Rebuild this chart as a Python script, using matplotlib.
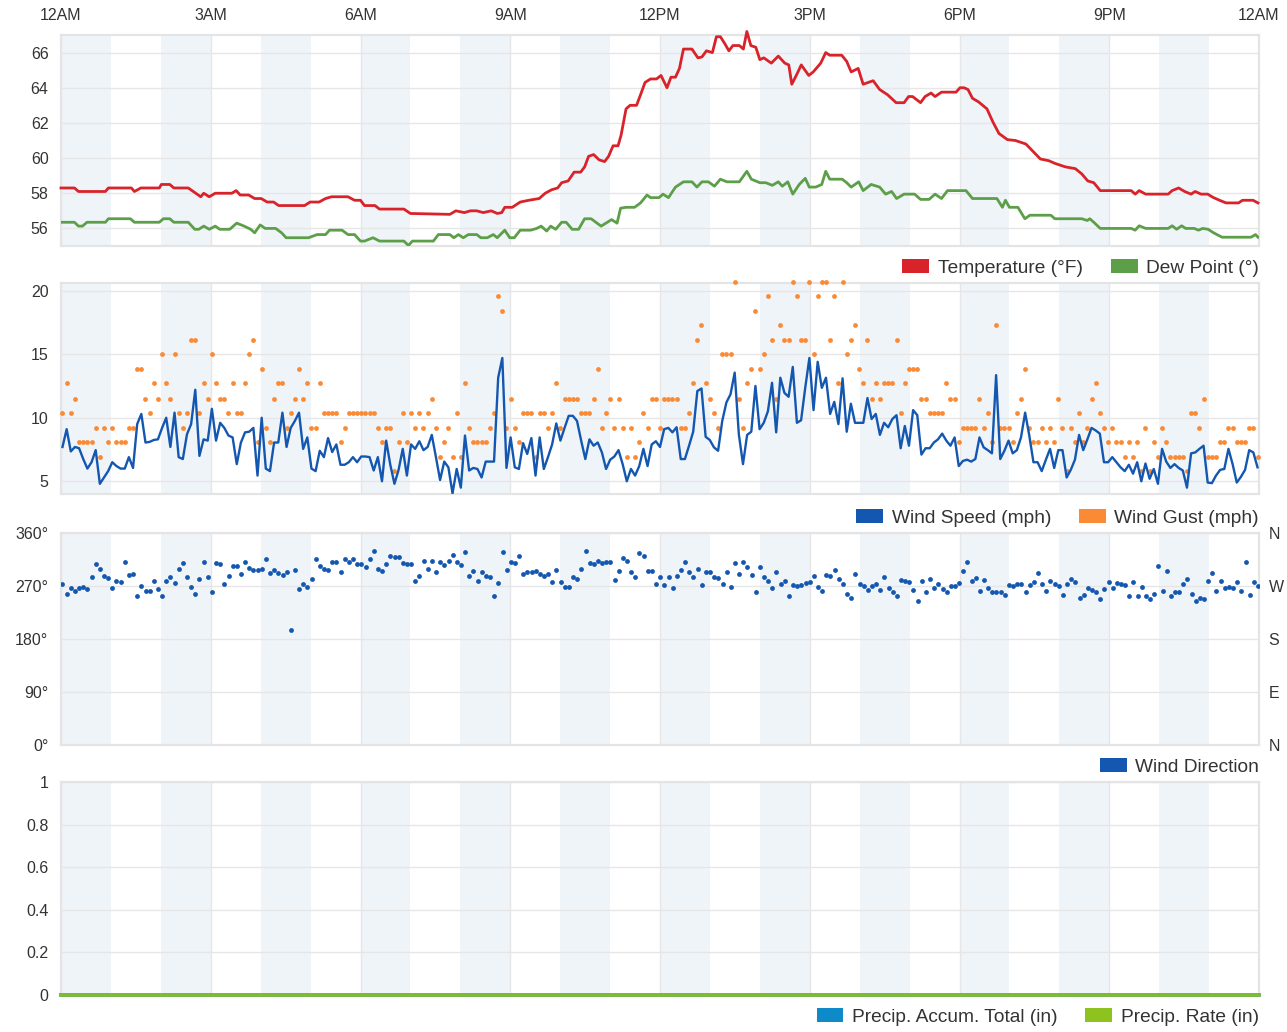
import numpy as np
import matplotlib

matplotlib.use("Agg")

import matplotlib.pyplot as plt
from matplotlib.patches import Patch

plt.rcParams["font.family"] = ["Liberation Sans", "DejaVu Sans"]

# ---- Temperature / dew point (hour of day, deg F) ----
temp_hours = [
    0.00, 0.27, 0.35, 0.89, 0.95, 1.41, 1.47, 1.60, 1.97, 2.01, 2.18, 2.26, 2.55, 2.80, 2.86, 2.97,
    3.09, 3.42, 3.51, 3.59, 3.76, 3.88, 4.01, 4.13, 4.26, 4.36, 4.88, 4.99, 5.17, 5.30, 5.42, 5.75,
    5.88, 6.00, 6.08, 6.29, 6.38, 6.87, 7.00, 7.79, 7.91, 8.08, 8.20, 8.33, 8.46, 8.62, 8.74, 8.83,
    8.89, 9.04, 9.20, 9.37, 9.58, 9.70, 9.83, 9.95, 10.03, 10.16, 10.28, 10.41, 10.49, 10.57, 10.67,
    10.78, 10.89, 10.97, 11.06, 11.16, 11.22, 11.32, 11.40, 11.53, 11.61, 11.70, 11.81, 11.93, 12.02,
    12.14, 12.22, 12.31, 12.39, 12.47, 12.64, 12.76, 12.84, 12.93, 13.05, 13.13, 13.21, 13.30, 13.38,
    13.46, 13.59, 13.67, 13.74, 13.82, 13.92, 14.00, 14.08, 14.23, 14.37, 14.50, 14.58, 14.64, 14.73,
    14.83, 14.98, 15.07, 15.22, 15.32, 15.40, 15.64, 15.74, 15.83, 15.97, 16.07, 16.27, 16.40, 16.56,
    16.73, 16.89, 16.98, 17.06, 17.22, 17.31, 17.43, 17.51, 17.64, 17.93, 18.01, 18.09, 18.17, 18.26,
    18.38, 18.55, 18.67, 18.79, 18.96, 19.12, 19.33, 19.50, 19.62, 19.79, 19.91, 20.12, 20.32, 20.45,
    20.57, 20.69, 20.82, 21.44, 21.52, 21.60, 21.73, 22.18, 22.26, 22.39, 22.51, 22.64, 22.72, 22.84,
    22.97, 23.09, 23.21, 23.34, 23.59, 23.67, 23.88, 23.98,
]
temp_f = [
    58.3, 58.3, 58.1, 58.1, 58.3, 58.3, 58.1, 58.3, 58.3, 58.5, 58.5, 58.3, 58.3, 57.8, 58.0, 57.8,
    58.0, 58.0, 58.15, 57.9, 57.9, 57.7, 57.7, 57.5, 57.5, 57.3, 57.3, 57.5, 57.5, 57.7, 57.8, 57.8,
    57.6, 57.6, 57.3, 57.3, 57.1, 57.1, 56.85, 56.8, 57.0, 56.9, 57.0, 57.0, 56.9, 57.0, 56.85, 56.9,
    57.2, 57.2, 57.5, 57.6, 57.7, 58.0, 58.2, 58.3, 58.6, 58.7, 59.2, 59.2, 59.5, 60.1, 60.2,
    59.9, 59.8, 60.1, 60.7, 60.7, 61.3, 62.8, 63.0, 63.0, 63.6, 64.3, 64.5, 64.5, 64.7,
    64.0, 64.6, 64.6, 65.1, 66.2, 66.2, 65.7, 65.75, 66.1, 66.0, 66.9, 66.9, 66.5, 66.1,
    66.4, 66.4, 66.2, 67.2, 66.4, 66.3, 65.6, 65.7, 65.4, 65.8, 65.4, 65.3, 64.2, 64.7,
    65.3, 64.7, 64.9, 65.4, 66.0, 65.85, 65.85, 65.5, 64.9, 65.1, 64.2, 64.4, 63.9, 63.6,
    63.15, 63.15, 63.5, 63.5, 63.15, 63.5, 63.7, 63.5, 63.75, 63.75, 64.0, 64.0, 63.9, 63.4,
    63.2, 62.8, 62.05, 61.4, 61.05, 61.0, 60.8, 60.3, 59.95, 59.85, 59.7, 59.5, 59.4, 59.1,
    58.7, 58.6, 58.15, 58.15, 57.95, 58.15, 57.95, 57.95, 58.15, 58.3, 58.1, 57.95, 58.1, 57.95,
    57.95, 57.75, 57.6, 57.45, 57.45, 57.6, 57.6, 57.45,
]
dew_hours = [
    0.00, 0.27, 0.35, 0.43, 0.52, 0.89, 0.95, 1.39, 1.47, 1.97, 2.05, 2.18, 2.26, 2.55, 2.68, 2.76,
    2.86, 2.97, 3.09, 3.18, 3.38, 3.52, 3.67, 3.80, 3.88, 3.99, 4.09, 4.30, 4.42, 4.51, 4.96, 5.13,
    5.30, 5.38, 5.63, 5.75, 5.88, 6.00, 6.08, 6.25, 6.38, 6.87, 6.96, 7.04, 7.46, 7.56, 7.79, 7.87,
    7.96, 8.06, 8.16, 8.33, 8.41, 8.54, 8.66, 8.74, 8.89, 8.99, 9.08, 9.20, 9.41, 9.53, 9.62, 9.73,
    9.81, 9.91, 10.03, 10.12, 10.24, 10.37, 10.49, 10.62, 10.82, 11.03, 11.14, 11.21, 11.32, 11.49,
    11.61, 11.74, 11.81, 11.98, 12.06, 12.17, 12.31, 12.47, 12.64, 12.74, 12.84, 12.97, 13.09, 13.21,
    13.34, 13.59, 13.74, 13.83, 14.00, 14.12, 14.25, 14.37, 14.45, 14.56, 14.66, 14.79, 14.91, 14.99,
    15.12, 15.24, 15.32, 15.40, 15.65, 15.74, 15.83, 15.98, 16.07, 16.23, 16.40, 16.52, 16.64, 16.74,
    16.89, 17.10, 17.22, 17.39, 17.51, 17.64, 17.76, 18.13, 18.26, 18.75, 18.86, 18.92, 19.00, 19.17,
    19.31, 19.41, 19.83, 19.91, 20.45, 20.56, 20.61, 20.69, 20.82, 21.44, 21.52, 21.60, 21.73, 22.18,
    22.26, 22.35, 22.45, 22.53, 22.70, 22.79, 22.87, 22.98, 23.09, 23.26, 23.84, 23.93, 23.98,
]
dew_f = [
    56.35, 56.35, 56.13, 56.13, 56.35, 56.35, 56.55, 56.55, 56.35, 56.35, 56.55, 56.55, 56.35, 56.35, 55.95, 55.95,
    56.13, 55.95, 56.13, 55.95, 55.95, 56.3, 56.13, 55.95, 55.75, 56.2, 56.0, 56.0, 55.75, 55.47, 55.47, 55.65,
    55.65, 55.9, 55.9, 55.65, 55.65, 55.28, 55.28, 55.47, 55.28, 55.28, 55.03, 55.28, 55.28, 55.65, 55.65, 55.47,
    55.65, 55.47, 55.65, 55.65, 55.47, 55.47, 55.65, 55.47, 55.9, 55.47, 55.47, 55.9, 55.9, 56.0, 56.13, 55.85,
    56.13, 55.95, 56.35, 56.35, 55.95, 55.95, 56.55, 56.55, 56.13, 56.5, 56.3, 57.15, 57.2, 57.2,
    57.45, 57.9, 57.75, 57.75, 57.95, 57.75, 58.35, 58.65, 58.65, 58.35, 58.65, 58.65, 58.4, 58.8,
    58.65, 58.65, 59.25, 58.8, 58.6, 58.6, 58.45, 58.65, 58.4, 58.65, 57.95, 58.5, 58.85, 58.35,
    58.35, 58.5, 59.25, 58.8, 58.8, 58.6, 58.35, 58.65, 58.15, 58.5, 58.35, 57.95, 58.1, 57.7,
    57.95, 57.95, 57.65, 57.65, 57.95, 57.7, 58.15, 58.15, 57.7, 57.7, 57.2, 57.6, 57.2, 57.2,
    56.55, 56.75, 56.75, 56.55, 56.55, 56.45, 56.55, 56.35, 56.0, 56.0, 55.9, 56.15, 56.0, 56.0,
    56.15, 55.95, 56.15, 56.0, 56.0, 55.9, 56.0, 55.95, 55.75, 55.5, 55.5, 55.65, 55.5,
]

# ---- Wind speed and gust (mph), one reading every ~5 minutes ----
wind_speed = [
    7.7, 9.1, 7.35, 7.7, 7.6, 6.75, 6.0, 6.5, 7.45, 4.8,
    5.3, 5.8, 6.5, 6.2, 6.0, 6.0, 6.9, 6.05, 9.5, 10.3,
    8.05, 8.1, 8.25, 8.3, 9.2, 10.0, 7.7, 10.4, 6.9, 6.75,
    8.7, 9.5, 12.2, 7.0, 8.3, 8.2, 10.7, 8.2, 9.6, 9.2,
    8.6, 8.45, 6.35, 8.05, 8.85, 8.9, 9.2, 5.45, 10.0, 6.0,
    5.8, 8.05, 8.05, 10.4, 7.7, 9.2, 9.75, 10.4, 7.55, 8.45,
    6.0, 5.8, 7.4, 6.9, 8.4, 7.3, 7.9, 6.3, 6.3, 6.5,
    6.9, 6.5, 6.95,
    6.95, 6.9, 5.85, 6.9, 5.0, 8.2, 6.3, 4.8, 5.9, 7.55,
    5.45, 7.9, 7.55, 8.15, 7.45, 7.7, 8.65, 6.9, 5.1, 6.55,
    6.1, 4.05, 5.97, 4.5, 8.6, 5.85, 6.05, 5.97, 5.3, 6.55,
    6.55, 6.55, 13.15, 14.7, 6.05, 8.45, 6.1, 5.97, 8.0, 7.15,
    8.4, 5.45, 8.45, 5.97, 6.9, 7.9, 9.55, 8.2, 9.2, 10.15,
    10.15, 9.75, 8.2, 6.75, 8.3, 7.8, 8.05, 7.27, 5.97, 6.7,
    6.95, 7.45, 6.35, 5.0, 5.97, 5.45, 6.2, 7.55, 6.2, 7.9,
    8.15, 7.7, 9.1,
    9.2, 8.85, 9.25, 6.75, 6.75, 7.8, 8.9, 12.1, 12.3, 8.5,
    8.25, 7.67, 7.4, 9.75, 11.2, 11.85, 13.55, 8.7, 6.35, 8.65,
    8.9, 12.5, 9.1, 9.6, 10.5, 12.75, 8.85, 13.15, 11.95, 11.65,
    14.0, 9.6, 9.8, 12.35, 14.7, 10.6, 14.4, 12.35, 13.15, 10.3,
    11.25, 9.5, 13.1, 8.9, 11.1, 9.6, 9.6, 9.6, 11.55, 9.9,
    10.3, 8.65, 9.6, 9.25, 9.9, 10.2, 7.6, 9.35, 7.8, 10.6,
    10.2, 7.1, 7.6, 7.6, 8.05, 8.3, 8.75, 8.2, 7.8, 8.45,
    6.2, 6.6,
    6.7, 6.55, 6.75, 8.45, 7.67, 7.45, 7.2, 13.35, 6.75, 7.4,
    8.2, 7.2, 7.45, 8.45, 10.4, 8.6, 6.5, 6.5, 5.8, 6.7,
    7.55, 6.05, 7.45, 7.45, 5.3, 5.9, 6.7, 8.65, 7.45, 8.3,
    9.2, 9.0, 8.75, 6.5, 6.5, 6.9, 6.5, 6.1, 5.8, 6.3,
    5.6, 6.5, 5.0, 6.4, 5.2, 5.97, 4.8, 7.55, 6.55, 6.05,
    6.35, 6.05, 5.85, 4.5, 7.2, 7.27, 7.55, 7.8, 4.9, 4.85,
    5.45, 5.9, 5.97, 7.55, 6.35, 4.9, 5.35, 5.9, 7.45, 7.27,
    6.1,
]
wind_gust = [
    10.4, 12.7, 10.4, 11.5, 8.1, 8.1, 8.1, 8.1, 9.2, 6.9,
    9.2, 8.1, 9.2, 8.1, 8.1, 8.1, 9.2, 9.2, 13.8, 13.8,
    11.5, 10.4, 12.7, 11.5, 15.0, 12.7, 11.5, 15.0, 10.4, 9.2,
    10.4, 16.1, 16.1, 10.4, 12.7, 11.5, 15.0, 12.7, 11.5, 11.5,
    10.4, 12.7, 10.4, 10.4, 12.7, 15.0, 16.1, 8.1, 13.8, 9.2,
    8.1, 11.5, 12.7, 12.7, 9.2, 10.4, 11.5, 13.8, 11.5, 12.7,
    9.2, 9.2, 12.7, 10.4, 10.4, 10.4, 10.4, 8.1, 9.2, 10.4,
    10.4, 10.4, 10.4,
    10.4, 10.4, 10.4, 9.2, 8.1, 9.2, 9.2, 5.8, 8.1, 10.4,
    8.1, 10.4, 9.2, 10.4, 9.2, 10.4, 11.5, 9.2, 6.9, 8.1,
    9.2, 6.9, 10.4, 6.9, 12.7, 9.2, 8.1, 8.1, 8.1, 8.1,
    9.2, 10.4, 19.6, 18.4, 9.2, 11.5, 9.2, 8.1, 10.4, 10.4,
    10.4, 6.9, 10.4, 10.4, 9.2, 10.4, 12.7, 9.2, 11.5, 11.5,
    11.5, 11.5, 10.4, 10.4, 10.4, 11.5, 13.8, 9.2, 10.4, 11.5,
    9.2, 11.5, 9.2, 6.9, 9.2, 6.9, 8.1, 10.4, 9.2, 11.5,
    11.5, 9.2, 11.5,
    11.5, 11.5, 11.5, 9.2, 9.2, 10.4, 12.7, 16.1, 17.3, 12.7,
    11.5, 10.4, 9.2, 15.0, 15.0, 15.0, 20.7, 11.5, 9.2, 12.7,
    13.8, 18.4, 13.8, 15.0, 19.6, 16.1, 11.5, 17.3, 16.1, 16.1,
    20.7, 19.6, 16.1, 16.1, 20.7, 15.0, 19.6, 20.7, 20.7, 16.1,
    19.6, 12.7, 20.7, 15.0, 16.1, 17.3, 13.8, 12.7, 16.1, 11.5,
    12.7, 11.5, 12.7, 12.7, 12.7, 16.1, 10.4, 12.7, 13.8, 13.8,
    13.8, 11.5, 11.5, 10.4, 10.4, 10.4, 10.4, 12.7, 11.5, 11.5,
    8.1, 9.2,
    9.2, 9.2, 9.2, 11.5, 9.2, 10.4, 8.1, 17.3, 9.2, 9.2,
    9.2, 8.1, 10.4, 11.5, 13.8, 9.2, 8.1, 8.1, 9.2, 8.1,
    9.2, 8.1, 11.5, 9.2, 5.8, 9.2, 8.1, 10.4, 8.1, 9.2,
    11.5, 12.7, 10.4, 9.2, 8.1, 9.2, 8.1, 8.1, 6.9, 8.1,
    6.9, 8.1, 5.8, 9.2, 5.8, 8.1, 6.9, 9.2, 8.1, 6.9,
    6.9, 6.9, 6.9, 5.8, 10.4, 10.4, 9.2, 11.5, 6.9, 6.9,
    6.9, 8.1, 8.1, 9.2, 9.2, 8.1, 8.1, 8.1, 9.2, 9.2,
    6.9,
]

# ---- Wind direction (degrees), one reading every ~5 minutes ----
wind_dir = [
    273.5, 256.5, 266.7, 262, 266.7, 268, 265, 285, 307.5, 299,
    287.7, 283, 266.7, 279, 277.5, 311.4, 289, 290.5, 252.5, 270.7,
    262, 262, 279, 265, 253.7, 279, 285, 275, 299, 309,
    285, 268, 256.5, 282, 310, 285, 259, 309, 307.5, 273.5,
    287.7, 303.5, 304.6, 290.5, 310, 300, 297.8, 297.8, 299, 316,
    292, 297, 291.6, 288.8, 294.4, 196, 297, 265, 273.5, 268,
    282, 316, 304.6, 299, 297.8, 310, 311.4, 293.3, 316, 310,
    316, 307.5, 307.5, 301.8, 316, 330, 299, 296, 307.5, 321.6,
    320, 318.8, 309, 307.5, 307.5, 279, 287.7, 313, 299, 313,
    294.4, 311.4, 305.8, 313, 322.8, 310, 305.8, 327.3, 287.7, 296,
    279, 293.3, 287.7, 285, 252.5, 275, 327.3, 297.8, 311.4, 309,
    320.5, 290.5, 293.3, 293.3, 296, 290.5, 287.7, 290.5, 277.5, 297.8,
    276.3, 268, 268, 285, 282, 299, 330, 309, 307.5, 313,
    309, 310, 310, 280.3, 296, 317, 313, 293.3, 285, 326,
    321.6, 296,
    296, 273.5, 286, 271.8, 286, 266.7, 287.7, 297, 311.4, 294.4,
    285, 299, 271.8, 293.3, 293.3, 286, 283, 273.5, 293.3, 269,
    308.6, 290.5, 311.4, 301.8, 288.8, 260.5, 301.8, 285, 279, 266,
    294.4, 273.5, 279, 252.5, 271.8, 269.5, 271.8, 275, 277.5, 287.7,
    268, 262, 288.8, 287.7, 297, 282, 273.5, 256.5, 249, 290.5,
    273.5, 269.5, 263.9, 269.5, 273.5, 263.9, 285, 266, 259, 253.7,
    280.9, 279, 277.5, 263.9, 245, 279, 259, 282, 266, 273.5,
    265, 260.5, 269.5, 270.7, 275, 296, 310, 279, 283, 262,
    280.9, 266, 259, 260.5, 260.5, 254.8, 271.8, 270.7, 273.5, 273.5,
    260.5, 271.8, 277.5, 291.6, 273.5, 262, 279, 273.5, 270.7, 254.8,
    273.5, 282, 276.3, 249, 254.8, 266, 263.9, 260.5, 248, 265,
    277.5, 266, 275, 273.5, 271.8, 252.5, 277.5, 252.5, 268, 252.5,
    248, 256.5, 303.5, 262, 296, 252.5, 260.5, 259, 273.5, 282,
    256.5, 245, 249, 248, 279, 292, 262, 279, 266, 268,
    266, 276.3, 262, 310, 254.8, 276.3, 269.5,
]

# ---- Precipitation (in): no rain recorded ----
precip_hours = [0.0, 24.0]
precip_accum = [0.0, 0.0]
precip_rate = [0.0, 0.0]

hour_ticks = [0, 3, 6, 9, 12, 15, 18, 21, 24]
hour_labels = ["12AM", "3AM", "6AM", "9AM", "12PM", "3PM", "6PM", "9PM", "12AM"]

C_TEMP = "#d8232a"
C_DEW = "#5c9f48"
C_SPEED = "#1457b0"
C_GUST = "#fb8a35"
C_DIR = "#1457b0"
C_ACCUM = "#0e8ac8"
C_RATE = "#8dc21f"
C_BAND = "#eff4f9"
C_GRID = "#e6e6e6"
C_TEXT = "#333333"

W, H = 1287, 1032
LEFT, RIGHT = 61, 1259
TICK_SIZE = 11.5


def panel(fig, top, bottom):
    ax = fig.add_axes([LEFT / W, 1 - bottom / H, (RIGHT - LEFT) / W, (bottom - top) / H])
    ax.set_xlim(0, 24)
    for h in range(0, 24, 2):
        ax.axvspan(h, h + 1, color=C_BAND, lw=0, zorder=0)
    for h in hour_ticks:
        ax.axvline(h, color=C_GRID, lw=1.0, zorder=0.5)
    ax.set_xticks([])
    ax.tick_params(axis="y", length=0, pad=9, labelsize=TICK_SIZE, colors=C_TEXT)
    for s in ax.spines.values():
        s.set_color("#e4e4e4")
        s.set_linewidth(1.6)
    return ax


def yaxis(ax, ylim, ticks, labels):
    ax.set_ylim(*ylim)
    ax.set_yticks(ticks)
    ax.set_yticklabels(labels)
    for t in ticks:
        ax.axhline(t, color=C_GRID, lw=1.0, zorder=0.5)


def legend(ax, items, offset_px):
    handles = [Patch(facecolor=c, edgecolor="none", label=l) for l, c in items]
    h_ax = ax.get_position().height * H
    ax.legend(
        handles=handles,
        loc="center right",
        bbox_to_anchor=(1.0, -offset_px / h_ax),
        ncol=len(items),
        frameon=False,
        fontsize=13.8,
        handlelength=1.4,
        handleheight=0.7,
        handletextpad=0.45,
        columnspacing=1.45,
        borderaxespad=0,
        borderpad=0,
        labelcolor=C_TEXT,
    )


def main():
    fig = plt.figure(figsize=(W / 100, H / 100), dpi=100)
    fig.patch.set_facecolor("white")

    # Temperature / dew point
    ax1 = panel(fig, 35, 246)
    yaxis(ax1, (55.0, 67.0), [56, 58, 60, 62, 64, 66], ["56", "58", "60", "62", "64", "66"])
    ax1.plot(temp_hours, temp_f, color=C_TEMP, lw=2.0, zorder=3, clip_on=False)
    ax1.plot(dew_hours, dew_f, color=C_DEW, lw=2.0, zorder=3)
    ax1.set_xticks(hour_ticks)
    ax1.set_xticklabels(hour_labels)
    ax1.xaxis.tick_top()
    ax1.tick_params(axis="x", length=0, pad=9, labelsize=TICK_SIZE, colors=C_TEXT)
    legend(ax1, [("Temperature (°F)", C_TEMP), ("Dew Point (°)", C_DEW)], 22)

    # Wind speed / gust
    ax2 = panel(fig, 283, 494)
    yaxis(ax2, (4.0, 20.6), [5, 10, 15, 20], ["5", "10", "15", "20"])
    t_wind = np.linspace(0.03, 23.97, len(wind_speed))
    ax2.scatter(t_wind, wind_gust, s=12, color=C_GUST, linewidths=0, zorder=3, clip_on=False)
    ax2.plot(t_wind, wind_speed, color=C_SPEED, lw=1.7, zorder=4)
    legend(ax2, [("Wind Speed (mph)", C_SPEED), ("Wind Gust (mph)", C_GUST)], 24)

    # Wind direction
    ax3 = panel(fig, 533, 745)
    yaxis(ax3, (0, 360), [0, 90, 180, 270, 360], ["0°", "90°", "180°", "270°", "360°"])
    t_dir = np.linspace(0.03, 23.98, len(wind_dir))
    ax3.scatter(t_dir, wind_dir, s=12, color=C_DIR, linewidths=0, zorder=3)
    ax3r = ax3.twinx()
    ax3r.set_ylim(0, 360)
    ax3r.set_yticks([0, 90, 180, 270, 360])
    ax3r.set_yticklabels(["N", "E", "S", "W", "N"])
    ax3r.tick_params(axis="y", length=0, pad=7, labelsize=TICK_SIZE, colors=C_TEXT)
    for s in ax3r.spines.values():
        s.set_visible(False)
    legend(ax3, [("Wind Direction", C_DIR)], 22)

    # Precipitation
    ax4 = panel(fig, 782, 995)
    yaxis(ax4, (0, 1), [0, 0.2, 0.4, 0.6, 0.8, 1], ["0", "0.2", "0.4", "0.6", "0.8", "1"])
    ax4.plot(precip_hours, precip_accum, color=C_ACCUM, lw=2.6, zorder=3, clip_on=False)
    ax4.plot(precip_hours, precip_rate, color=C_RATE, lw=2.6, alpha=0.9, zorder=4, clip_on=False)
    legend(ax4, [("Precip. Accum. Total (in)", C_ACCUM), ("Precip. Rate (in)", C_RATE)], 22)

    fig.savefig("out.png", dpi=100, facecolor="white")
    plt.close(fig)


if __name__ == "__main__":
    main()
